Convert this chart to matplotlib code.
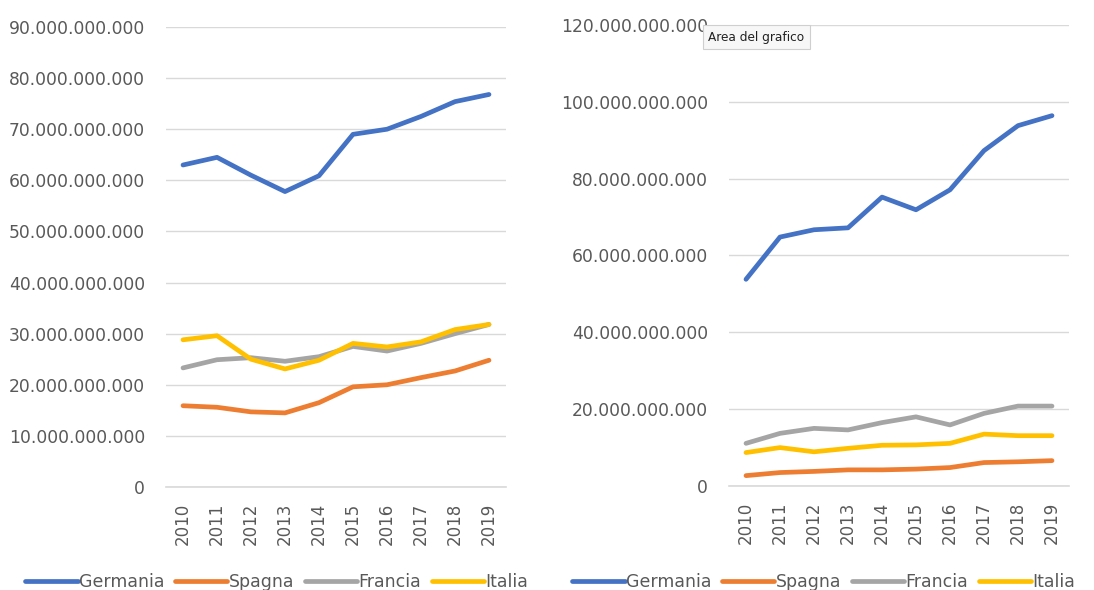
import numpy as np
import matplotlib.pyplot as plt
from matplotlib.ticker import FuncFormatter, MultipleLocator

years = [str(y) for y in range(2010, 2020)]
countries = ['Germania', 'Spagna', 'Francia', 'Italia']
colors = ['#4472C4', '#ED7D31', '#A5A5A5', '#FFC000']

# left chart (values in euro)
left_germania = [63.0e9, 64.5e9, 61.0e9, 57.8e9, 60.9e9, 69.0e9, 70.0e9, 72.5e9, 75.4e9, 76.8e9]
left_spagna = [15.9e9, 15.6e9, 14.7e9, 14.5e9, 16.5e9, 19.6e9, 20.0e9, 21.4e9, 22.7e9, 24.8e9]
left_francia = [23.3e9, 24.9e9, 25.3e9, 24.6e9, 25.5e9, 27.5e9, 26.6e9, 28.1e9, 30.0e9, 31.8e9]
left_italia = [28.8e9, 29.6e9, 25.0e9, 23.1e9, 24.8e9, 28.1e9, 27.4e9, 28.4e9, 30.8e9, 31.8e9]

# right chart
right_germania = [53.8e9, 64.8e9, 66.7e9, 67.2e9, 75.2e9, 71.9e9, 77.1e9, 87.3e9, 93.8e9, 96.4e9]
right_spagna = [2.7e9, 3.5e9, 3.8e9, 4.2e9, 4.2e9, 4.4e9, 4.8e9, 6.1e9, 6.3e9, 6.6e9]
right_francia = [11.1e9, 13.7e9, 15.0e9, 14.6e9, 16.5e9, 18.0e9, 15.9e9, 18.9e9, 20.8e9, 20.8e9]
right_italia = [8.7e9, 10.0e9, 8.9e9, 9.8e9, 10.6e9, 10.7e9, 11.1e9, 13.5e9, 13.1e9, 13.1e9]

TEXT = '#595959'
GRID = '#D9D9D9'


def fmt(v, pos):
    return f'{int(round(v)):,}'.replace(',', '.')


def draw_chart(ax, series, ymax, step):
    x = np.arange(len(years))
    # baseline gridline at 0, drawn unclipped so it is not cut in half by the axes edge
    ax.axhline(0, color=GRID, lw=1.2, clip_on=False, zorder=0)
    for vals, name, c in zip(series, countries, colors):
        ax.plot(x, vals, color=c, lw=3.4, label=name, solid_capstyle='round')
    ax.set_xlim(-0.5, len(years) - 0.5)
    ax.set_ylim(0, ymax)
    ax.yaxis.set_major_locator(MultipleLocator(step))
    ax.yaxis.set_major_formatter(FuncFormatter(fmt))
    ax.set_xticks(x)
    ax.set_xticklabels(years, rotation=90)
    ax.grid(axis='y', color=GRID, lw=1.0)
    ax.set_axisbelow(True)
    for s in ax.spines.values():
        s.set_visible(False)
    ax.tick_params(axis='y', length=0, pad=15, labelsize=12.3, labelcolor=TEXT)
    ax.tick_params(axis='x', length=0, pad=11, labelsize=12, labelcolor=TEXT)


fig = plt.figure(figsize=(10.94, 5.9), dpi=100)
ax1 = fig.add_axes([166 / 1094, 103 / 590, 340 / 1094, 460 / 590])
ax2 = fig.add_axes([729 / 1094, 104 / 590, 340 / 1094, 461 / 590])

draw_chart(ax1, [left_germania, left_spagna, left_francia, left_italia], 90e9, 10e9)
draw_chart(ax2, [right_germania, right_spagna, right_francia, right_italia], 120e9, 20e9)

for ax, cx in [(ax1, 277 / 1094), (ax2, 824 / 1094)]:
    ax.legend(loc='center', bbox_to_anchor=(cx, 8 / 590), bbox_transform=fig.transFigure,
              ncol=4, frameon=False, fontsize=12.5, handlelength=3.0, handletextpad=0.1,
              columnspacing=0.6, labelcolor=TEXT)

# tooltip left over in the screenshot
fig.text(708 / 1094, 1 - 37 / 590, 'Area del grafico', fontsize=8.7, color='#222222',
         va='center', ha='left',
         bbox=dict(boxstyle='square,pad=0.45', facecolor='#F7F7F7', edgecolor='#CFCFCF', lw=0.8))

fig.savefig('out.png', dpi=100)
